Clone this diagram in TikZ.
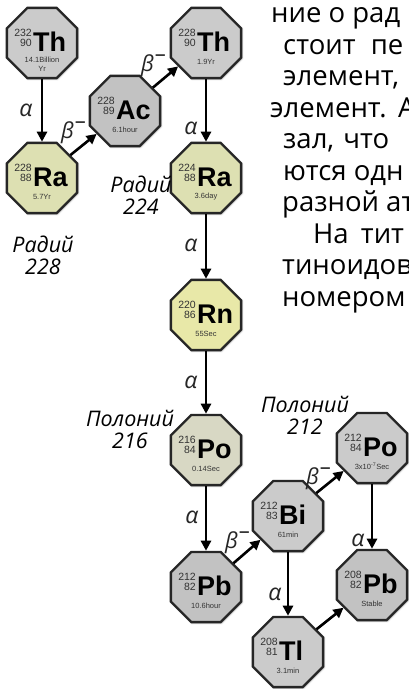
\documentclass[tikz,border=0pt]{standalone}
\usepackage{fontspec}
\setmainfont{Open Sans}
\newfontfamily\elemfont{Liberation Sans}
\usetikzlibrary{shapes.geometric,arrows.meta,shadows.blur}

\definecolor{leadgray}{HTML}{C2C2C2}
\definecolor{lightgray}{HTML}{CBCBCB}
\definecolor{radiumtan}{HTML}{DDE0B2}
\definecolor{radonyellow}{HTML}{E8E8A8}
\definecolor{polobeige}{HTML}{D8D8C4}
\definecolor{inkgray}{HTML}{333333}

\tikzset{
  nucbox/.style={regular polygon, regular polygon sides=8, minimum size=76pt,
    inner sep=0pt, draw=black!85, line width=2.3pt,
    blur shadow={shadow xshift=0.8pt, shadow yshift=-0.8pt,
      shadow blur radius=1.8pt, shadow opacity=50}},
  massno/.style={inner sep=0pt, font=\elemfont\fontsize{10.5}{10.5}\selectfont, text=inkgray},
  elsym/.style={inner sep=0pt, font=\elemfont\bfseries\fontsize{27}{27}\selectfont},
  halflife/.style={inner sep=0pt, font=\elemfont\fontsize{7.5}{9}\selectfont,
    text=inkgray, align=center},
  decay/.style={line width=2.6pt, -{Triangle[length=10pt,width=10pt]}},
  amode/.style={inner sep=0pt, font=\itshape\fontsize{23}{23}\selectfont, text=black!85},
  bmode/.style={inner sep=0pt, anchor=base west,
    font=\itshape\fontsize{22}{22}\selectfont, text=black!85},
  namelbl/.style={inner sep=0pt, font=\itshape\fontsize{21.5}{22}\selectfont, align=center},
  prose/.style={inner sep=0pt, anchor=base west, font=\fontsize{27.5}{30}\selectfont},
}

% octagonal nuclide tile: name, x, y, fill, mass number, Z, symbol, half-life, half-life offset
\newcommand\nuclide[9][18.5]{%
  \node[nucbox, fill=#5] (#2) at (#3,#4) {};
  \node[massno, anchor=east] (#2-a) at ([shift={(-10,-10)}]#2.center) {#6};
  \node[massno, anchor=east] (#2-z) at ([shift={(-10,0)}]#2.center) {#7};
  \node[elsym, anchor=base west] (#2-s) at ([shift={(-9,8)}]#2.center) {#8};
  \node[halflife] (#2-t) at ([shift={(0,#1)}]#2.center) {#9};
}
\newcommand\betaminus{β\hspace{1pt}\raisebox{0.45em}{\upshape –}}

\begin{document}
\begin{tikzpicture}[x=1pt,y=-1pt]
\useasboundingbox (0,0) rectangle (409,689);
\clip (0,0) rectangle (409,689);

% thorium series tiles
\nuclide[21]{th232}{42}{43}{lightgray}{232}{90}{Th}{14.1Billion\\Yr}
\nuclide{ra228}{42}{178}{radiumtan}{228}{88}{Ra}{5.7Yr}
\nuclide{ac228}{125}{111}{leadgray}{228}{89}{Ac}{6.1hour}
\nuclide{th228}{206}{43}{lightgray}{228}{90}{Th}{1.9Yr}
\nuclide{ra224}{206}{178}{radiumtan}{224}{88}{Ra}{3.6day}
\nuclide{rn220}{206}{315}{radonyellow}{220}{86}{Rn}{55Sec}
\nuclide{po216}{206}{450}{polobeige}{216}{84}{Po}{0.14Sec}
\nuclide{pb212}{206}{587}{leadgray}{212}{82}{Pb}{10.6hour}
\nuclide{bi212}{288}{516}{lightgray}{212}{83}{Bi}{61min}
\nuclide{po212}{372}{448}{lightgray}{212}{84}{Po}{3x10\textsuperscript{-7}Sec}
\nuclide{tl208}{288}{652}{lightgray}{208}{81}{Tl}{3.1min}
\nuclide{pb208}{372}{585}{leadgray}{208}{82}{Pb}{Stable}

% decays
\draw[decay] (th232) -- (ra228);
\draw[decay] (ra228) -- (ac228);
\draw[decay] (ac228) -- (th228);
\draw[decay] (th228) -- (ra224);
\draw[decay] (ra224) -- (rn220);
\draw[decay] (rn220) -- (po216);
\draw[decay] (po216) -- (pb212);
\draw[decay] (pb212) -- (bi212);
\draw[decay] (bi212) -- (po212);
\draw[decay] (bi212) -- (tl208);
\draw[decay] (po212) -- (pb208);
\draw[decay] (tl208) -- (pb208);

% decay modes
\node[amode] (a1) at (26,110) {α};
\node[amode] (a2) at (191,128) {α};
\node[amode] (a3) at (191,245) {α};
\node[amode] (a4) at (191,382) {α};
\node[amode] (a5) at (192,517) {α};
\node[amode] (a6) at (275,594) {α};
\node[amode] (a7) at (358,540) {α};
\node[bmode] (b1) at (61,138) {\betaminus};
\node[bmode] (b2) at (141,71) {\betaminus};
\node[bmode] (b3) at (225,548) {\betaminus};
\node[bmode] (b4) at (306,484) {\betaminus};

% isotope names
\node[namelbl] (n1) at (43,255) {Радий\\228};
\node[namelbl] (n2) at (141,195) {Радий\\224};
\node[namelbl] (n3) at (130,429) {Полоний\\216};
\node[namelbl] (n4) at (305,415) {Полоний\\212};

% surrounding paragraph, one node per line
\node[prose] (t1) at (271,22) {ние о рад};
\node[prose] (t2) at (283,54) {стоит\hspace{8pt} пе};
\node[prose] (t3) at (283,85.5) {элемент,};
\node[prose] (t4) at (270,117) {элемент.\hspace{2pt} А};
\node[prose] (t5) at (283,148.5) {зал,\hspace{2pt} что};
\node[prose] (t6) at (283,180) {ются одн};
\node[prose] (t7) at (282,211.5) {разной ат};
\node[prose] (t8) at (313,243) {На\hspace{5pt} тит};
\node[prose] (t9) at (282,274.5) {тиноидов};
\node[prose] (t10) at (282,306) {номером};
\end{tikzpicture}
\end{document}
